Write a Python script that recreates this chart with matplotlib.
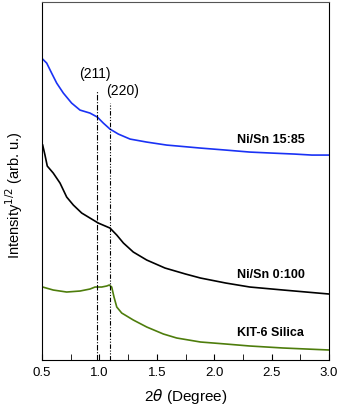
import matplotlib
matplotlib.use("Agg")
import matplotlib.pyplot as plt
from matplotlib.ticker import MultipleLocator

plt.rcParams['font.family'] = ['Liberation Sans', 'DejaVu Sans']

# --- curves (offset intensity, arbitrary units)
theta_blue = [0.506, 0.541, 0.584, 0.628, 0.686, 0.758, 0.831, 0.918, 0.982, 1.034, 1.092,
              1.165, 1.267, 1.412, 1.586, 1.685, 1.88, 2.1, 2.31, 2.5, 2.7, 2.85, 3.0]
int_blue = [301, 297, 287, 277, 267, 257, 250, 247, 243, 237, 231,
            226, 221, 218, 215, 214, 212, 210, 208, 207, 206, 205, 205]

theta_black = [0.506, 0.526, 0.546, 0.598, 0.657, 0.715, 0.773, 0.846, 0.918, 0.99, 1.092,
               1.151, 1.209, 1.295, 1.412, 1.571, 1.75, 1.88, 2.1, 2.31, 2.6, 2.8, 3.0]
int_black = [215, 205, 194, 187, 177, 163, 155, 147, 142, 137, 132,
             125, 117, 108, 100, 92, 86, 82, 77, 73, 70, 68, 66]

theta_green = [0.506, 0.598, 0.715, 0.831, 0.918, 0.962, 1.02, 1.063, 1.086, 1.107, 1.127,
               1.151, 1.194, 1.295, 1.412, 1.557, 1.673, 1.88, 2.1, 2.31, 2.6, 2.8, 3.0]
int_green = [73, 70, 68, 69, 71, 73, 73, 74, 75, 73, 63,
             53, 47, 40, 33, 26, 22, 18, 16, 14, 12, 11, 10]

labels = ["Ni/Sn 15:85", "Ni/Sn 0:100", "KIT-6 Silica"]
label_y = [220, 85, 27]

peaks = [0.982, 1.092]
peak_top = [270, 257]
peak_names = ["(211)", "(220)"]
peak_label_x = [0.96, 1.055]
peak_label_y = [279, 262]

fig = plt.figure(figsize=(3.4, 4.09), dpi=100)
ax = fig.add_axes([0.1235, 0.1198, 0.8445, 0.875])

ax.plot(theta_blue, int_blue, color="#1a32f5", lw=1.2)
ax.plot(theta_black, int_black, color="black", lw=1.2)
ax.plot(theta_green, int_green, color="#4e7d0c", lw=1.2)

ax.plot([peaks[0], peaks[0]], [0, peak_top[0]], color="black", lw=0.8,
        ls=(0, (5, 1.5, 1, 1.5)))
ax.plot([peaks[1], peaks[1]], [0, peak_top[1]], color="black", lw=0.8,
        ls=(0, (4, 1.5, 1, 1.5, 1, 1.5)))
ax.text(peak_label_x[0], peak_label_y[0], peak_names[0], ha="center", va="bottom", fontsize=10)
ax.text(peak_label_x[1], peak_label_y[1], peak_names[1], ha="left", va="bottom", fontsize=10)

for name, y in zip(labels, label_y):
    ax.text(2.2, y, name, fontsize=9, fontweight="bold", va="center")

ax.set_xlim(0.5, 3.0)
ax.set_ylim(0, 358)
ax.xaxis.set_major_locator(MultipleLocator(0.5))
ax.xaxis.set_minor_locator(MultipleLocator(0.25))
ax.xaxis.set_major_formatter(lambda v, p: f"{v:.1f}")
ax.tick_params(axis="x", which="both", direction="in", length=4, labelsize=9.5,
               top=False, pad=5)
ax.set_yticks([])
ax.spines["top"].set_color("#555555")
ax.set_xlabel(r"2$\it{\theta}$ (Degree)", fontsize=11, labelpad=6)
ax.set_ylabel(r"Intensity$^{1/2}$ (arb. u.)", fontsize=10.5)
ax.yaxis.set_label_coords(-0.06, 0.46)

fig.savefig("out.png", dpi=100)
